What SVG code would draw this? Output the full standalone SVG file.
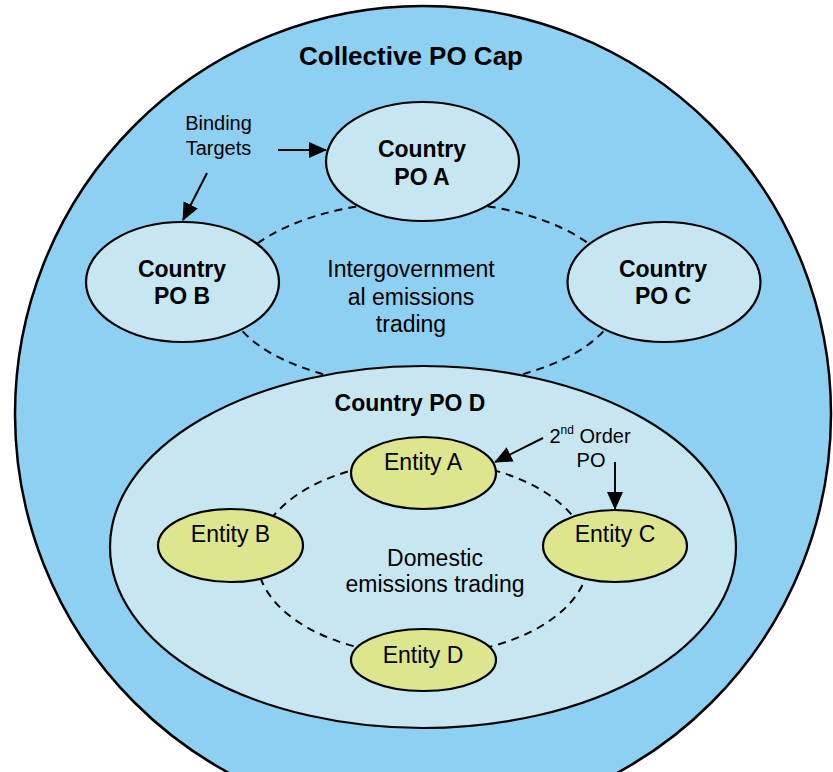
<svg xmlns="http://www.w3.org/2000/svg" width="833" height="772" viewBox="0 0 833 772">
<style>
text{font-family:"Liberation Sans",Arial,sans-serif;fill:#000;text-anchor:middle}
.b{font-weight:bold;font-size:23px}
.r{font-size:23px}
.s{font-size:20px}
.country{fill:#c6e7f1;stroke:#000;stroke-width:2.2}
.entity{fill:#dde58f;stroke:#000;stroke-width:2.2}
.dash{fill:none;stroke:#000;stroke-width:2;stroke-dasharray:8 6}
.arr{stroke:#000;stroke-width:2;fill:none;marker-end:url(#ah)}
</style>
<defs>
<marker id="ah" markerUnits="userSpaceOnUse" markerWidth="18" markerHeight="16" viewBox="0 0 18 16" refX="17" refY="8" orient="auto">
<path d="M0,0 L18,8 L0,16 Z" fill="#000"/>
</marker>
</defs>
<rect width="833" height="772" fill="#fff"/>
<g id="cap">
<circle cx="423" cy="414" r="408" fill="#8ed0f2" stroke="#000" stroke-width="2.5"/>
<text class="b" x="411" y="65" style="font-size:26px">Collective PO Cap</text>
</g>
<g id="connectors-intergov">
<ellipse class="dash" cx="423" cy="294" rx="197" ry="93"/>
</g>
<g id="countryA">
<ellipse class="country" cx="422.5" cy="161.5" rx="96.5" ry="59.5"/>
<text class="b" x="422" y="157">Country</text>
<text class="b" x="422" y="185">PO A</text>
</g>
<g id="countryB">
<ellipse class="country" cx="182.5" cy="282" rx="96.5" ry="60"/>
<text class="b" x="182" y="277">Country</text>
<text class="b" x="182" y="304">PO B</text>
</g>
<g id="countryC">
<ellipse class="country" cx="664" cy="282" rx="96.5" ry="60"/>
<text class="b" x="663" y="277">Country</text>
<text class="b" x="663" y="304">PO C</text>
</g>
<g id="intergov-label">
<text class="r" x="411" y="277">Intergovernment</text>
<text class="r" x="411" y="305">al emissions</text>
<text class="r" x="411" y="332">trading</text>
</g>
<g id="countryD">
<ellipse class="country" cx="423" cy="547" rx="313" ry="181"/>
<text class="b" x="410" y="411">Country PO D</text>
</g>
<g id="connectors-domestic">
<ellipse class="dash" cx="423" cy="558" rx="166" ry="97"/>
</g>
<g id="entityA">
<ellipse class="entity" cx="423.5" cy="473" rx="72.5" ry="36"/>
<text class="r" x="423" y="470">Entity A</text>
</g>
<g id="entityB">
<ellipse class="entity" cx="230.5" cy="545.5" rx="72.5" ry="36.5"/>
<text class="r" x="230.5" y="542">Entity B</text>
</g>
<g id="entityC">
<ellipse class="entity" cx="615" cy="546" rx="72" ry="36"/>
<text class="r" x="615" y="542">Entity C</text>
</g>
<g id="entityD">
<ellipse class="entity" cx="423.5" cy="660" rx="72.5" ry="31"/>
<text class="r" x="423" y="663">Entity D</text>
</g>
<g id="domestic-label">
<text class="r" x="435" y="566">Domestic</text>
<text class="r" x="435" y="592">emissions trading</text>
</g>
<g id="binding-label">
<text class="s" x="218.5" y="130">Binding</text>
<text class="s" x="218.5" y="155">Targets</text>
</g>
<g id="order-label">
<text class="s" x="590" y="443">2<tspan font-size="12" dy="-9">nd</tspan><tspan dy="9"> Order</tspan></text>
<text class="s" x="591" y="467">PO</text>
</g>
<g id="connectors">
<line class="arr" x1="278" y1="150" x2="326" y2="150"/>
<line class="arr" x1="207" y1="173" x2="183" y2="220"/>
<line class="arr" x1="543" y1="438" x2="495" y2="462"/>
<line class="arr" x1="615" y1="462" x2="615" y2="509"/>
</g>
</svg>
